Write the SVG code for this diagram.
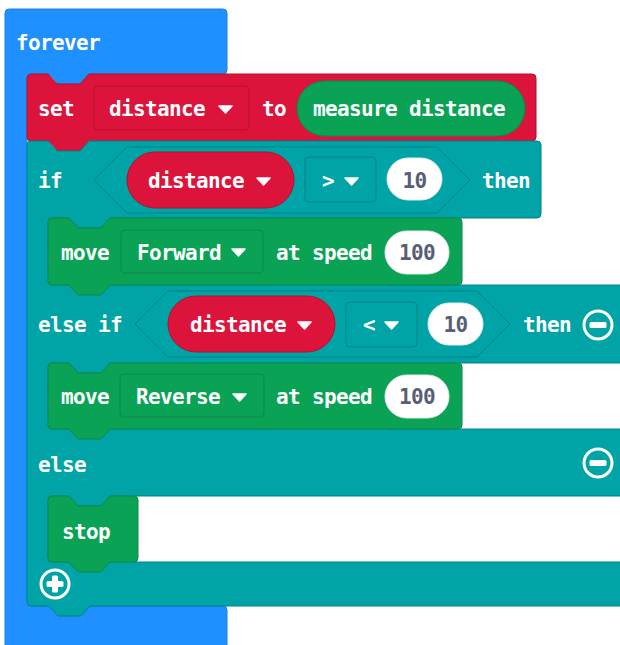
<svg xmlns="http://www.w3.org/2000/svg" width="620" height="645" viewBox="0 0 620 645">
<style>
  text { font-family: "DejaVu Sans Mono", "Liberation Mono", monospace; font-size: 21px; letter-spacing: -0.64px; font-weight: bold; fill: #ffffff; }
  .val { fill: #575e75; text-anchor: middle; }
  .blue { fill: #1e90ff; stroke: #1a7fe0; stroke-width: 1; }
  .red { fill: #dc143c; stroke: #b3102f; stroke-width: 1; }
  .teal { fill: #00a4a6; stroke: #008385; stroke-width: 1; }
  .green { fill: #0aa356; stroke: #08894a; stroke-width: 1; }
  .white { fill: #ffffff; stroke: #e6e6e6; stroke-width: 1; }
  .arrow { fill: #ffffff; stroke: #ffffff; stroke-width: 1.5; stroke-linejoin: round; }
  .icon { fill: none; stroke: #ffffff; stroke-width: 3; }
  .bar { fill: #ffffff; }
</style>
<rect width="620" height="645" fill="#ffffff"/>

<g id="forever">
  <path class="blue" d="M5,13 a4,4 0 0 1 4,-4 H223 a4,4 0 0 1 4,4 V70 a4,4 0 0 1 -4,4 H90 l-9,10 h-23 l-9,-10 H31 a4,4 0 0 0 -4,4 V602 a4,4 0 0 0 4,4 H223 a4,4 0 0 1 4,4 V650 H5 Z"/>
  <text x="16" y="50">forever</text>
</g>

<g id="set-distance">
  <path class="red" d="M27,78 a4,4 0 0 1 4,-4 H48 l9,10 h23 l9,-10 H532 a4,4 0 0 1 4,4 V137 a4,4 0 0 1 -4,4 H90 l-9,10 h-23 l-9,-10 H31 a4,4 0 0 1 -4,-4 Z"/>
  <text x="38" y="116">set</text>
  <rect class="red" x="94" y="86" width="155" height="44" rx="4"/>
  <text x="109" y="116">distance</text>
  <polygon class="arrow" points="219,106 232,106 225.5,113"/>
  <text x="262" y="116">to</text>
  <rect class="green" x="297" y="81" width="228" height="55" rx="27.5"/>
  <text x="313" y="116">measure distance</text>
</g>

<g id="if-block">
  <path class="teal" d="M27,145 a4,4 0 0 1 4,-4 H48 l9,10 h23 l9,-10 H537 a4,4 0 0 1 4,4 V214 a4,4 0 0 1 -4,4 H110 l-9,10 h-23 l-9,-10 H52 a4,4 0 0 0 -4,4 V281 a4,4 0 0 0 4,4 H640 V363 H110 l-9,10 h-23 l-9,-10 H52 a4,4 0 0 0 -4,4 V425 a4,4 0 0 0 4,4 H640 V496 H110 l-9,10 h-23 l-9,-10 H52 a4,4 0 0 0 -4,4 V558 a4,4 0 0 0 4,4 H640 V606 H90 l-9,10 h-23 l-9,-10 H31 a4,4 0 0 1 -4,-4 Z"/>
  <text x="38" y="188">if</text>
  <text x="482" y="188">then</text>
  <text x="38" y="332">else if</text>
  <text x="523" y="332">then</text>
  <text x="38" y="472">else</text>
  <circle class="icon" cx="598" cy="325" r="14"/>
  <rect class="bar" x="589.5" y="322" width="17" height="6" rx="1.5"/>
  <circle class="icon" cx="598" cy="463" r="14"/>
  <rect class="bar" x="589.5" y="460" width="17" height="6" rx="1.5"/>
  <circle class="icon" cx="55" cy="584" r="14"/>
  <rect class="bar" x="46.5" y="581" width="17" height="6" rx="1.5"/>
  <rect class="bar" x="52" y="575.5" width="6" height="17" rx="1.5"/>
</g>

<g id="compare-gt">
  <polygon class="teal" points="94,180 127,147 437,147 470,180 437,213 127,213"/>
  <rect class="red" x="127" y="152" width="167" height="56" rx="28"/>
  <text x="148" y="188">distance</text>
  <polygon class="arrow" points="257,178 270,178 263.5,185"/>
  <rect class="teal" x="305" y="157" width="71" height="45" rx="4"/>
  <text x="322" y="188">&gt;</text>
  <polygon class="arrow" points="345,178 358,178 351.5,185"/>
  <rect class="white" x="387" y="158" width="55" height="42" rx="21"/>
  <text class="val" x="414.5" y="188">10</text>
</g>

<g id="compare-lt">
  <polygon class="teal" points="135,324 168,291 477,291 510,324 477,357 168,357"/>
  <rect class="red" x="168" y="296" width="167" height="56" rx="28"/>
  <text x="190" y="332">distance</text>
  <polygon class="arrow" points="298,322 311,322 304.5,329"/>
  <rect class="teal" x="346" y="302" width="71" height="45" rx="4"/>
  <text x="363" y="332">&lt;</text>
  <polygon class="arrow" points="385,322 398,322 391.5,329"/>
  <rect class="white" x="428" y="303" width="55" height="42" rx="21"/>
  <text class="val" x="455.5" y="332">10</text>
</g>

<g id="move-forward">
  <path class="green" d="M48,222 a4,4 0 0 1 4,-4 H69 l9,10 h23 l9,-10 H458 a4,4 0 0 1 4,4 V281 a4,4 0 0 1 -4,4 H110 l-9,10 h-23 l-9,-10 H52 a4,4 0 0 1 -4,-4 Z"/>
  <text x="61" y="260">move</text>
  <rect class="green" x="121" y="230" width="142" height="43" rx="4"/>
  <text x="137" y="260">Forward</text>
  <polygon class="arrow" points="232,249 245,249 238.5,256"/>
  <text x="276" y="260">at speed</text>
  <rect class="white" x="385" y="231" width="64" height="43" rx="21.5"/>
  <text class="val" x="417" y="260">100</text>
</g>

<g id="move-reverse">
  <path class="green" d="M48,367 a4,4 0 0 1 4,-4 H69 l9,10 h23 l9,-10 H458 a4,4 0 0 1 4,4 V425 a4,4 0 0 1 -4,4 H110 l-9,10 h-23 l-9,-10 H52 a4,4 0 0 1 -4,-4 Z"/>
  <text x="61" y="404">move</text>
  <rect class="green" x="120" y="374" width="144" height="43" rx="4"/>
  <text x="136" y="404">Reverse</text>
  <polygon class="arrow" points="233,394 246,394 239.5,401"/>
  <text x="276" y="404">at speed</text>
  <rect class="white" x="385" y="375" width="64" height="43" rx="21.5"/>
  <text class="val" x="417" y="404">100</text>
</g>

<g id="stop">
  <path class="green" d="M48,500 a4,4 0 0 1 4,-4 H69 l9,10 h23 l9,-10 H134 a4,4 0 0 1 4,4 V558 a4,4 0 0 1 -4,4 H110 l-9,10 h-23 l-9,-10 H52 a4,4 0 0 1 -4,-4 Z"/>
  <text x="62" y="539">stop</text>
</g>

<g id="connectors"/>
</svg>
